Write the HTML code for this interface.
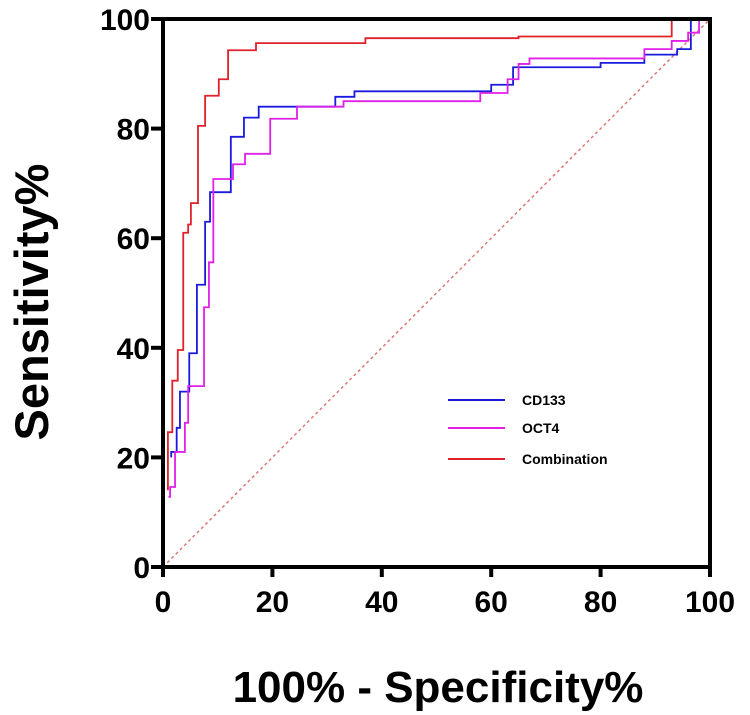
<!DOCTYPE html>
<html><head><meta charset="utf-8"><style>
body{margin:0;background:#fff;}
svg{display:block;font-family:"Liberation Sans",sans-serif;}
</style></head><body>
<svg id="chart" width="750" height="715"></svg>
<script>
const xTicks=[0,20,40,60,80,100];
const yTicks=[0,20,40,60,80,100];
const seriesNames=["CD133","OCT4","Combination"];
const seriesColors=["#1a1adf","#e020e8","#e0202a"];
const cd133=[[1.5,20],[1.5,21],[2.5,21],[2.5,25.4],[3.1,25.4],[3.1,32],[4.8,32],[4.8,39],[6.2,39],[6.2,51.5],[7.7,51.5],[7.7,63],[8.6,63],[8.6,68.4],[12.4,68.4],[12.4,78.5],[14.8,78.5],[14.8,82],[17.5,82],[17.5,84],[31.5,84],[31.5,85.8],[35,85.8],[35,86.8],[60,86.8],[60,88],[64,88],[64,91.2],[80,91.2],[80,92],[88,92],[88,93.5],[94,93.5],[94,94.5],[96.5,94.5],[96.5,100],[100,100]];
const oct4=[[1,12.8],[1.3,12.8],[1.3,14.6],[2.2,14.6],[2.2,21],[4,21],[4,26.3],[4.6,26.3],[4.6,33],[7.5,33],[7.5,47.4],[8.4,47.4],[8.4,55.6],[9.2,55.6],[9.2,70.8],[12.8,70.8],[12.8,73.5],[15,73.5],[15,75.4],[19.6,75.4],[19.6,81.8],[24.5,81.8],[24.5,84],[33,84],[33,85],[58,85],[58,86.5],[63,86.5],[63,89],[65,89],[65,91.8],[67,91.8],[67,92.8],[88,92.8],[88,94.5],[93,94.5],[93,96],[96,96],[96,97.5],[98,97.5],[98,100],[100,100]];
const combo=[[0.9,14],[0.9,24.6],[1.7,24.6],[1.7,34],[2.7,34],[2.7,39.6],[3.7,39.6],[3.7,61],[4.6,61],[4.6,62.5],[5.1,62.5],[5.1,66.4],[6.4,66.4],[6.4,80.5],[7.7,80.5],[7.7,86],[10.2,86],[10.2,89],[11.9,89],[11.9,94.3],[17,94.3],[17,95.6],[37,95.6],[37,96.5],[65,96.5],[65,96.8],[93,96.8],[93,100],[100,100]];
const seriesData=[cd133,oct4,combo];
const X0=163,X1=710,Y0=567,Y1=19;
const sx=v=>X0+(X1-X0)*v/100, sy=v=>Y0-(Y0-Y1)*v/100;
const svg=document.getElementById('chart');
const NS='http://www.w3.org/2000/svg';
function mk(t,a){const e=document.createElementNS(NS,t);for(const k in a)e.setAttribute(k,a[k]);svg.appendChild(e);return e;}
let d=mk('line',{x1:sx(0),y1:sy(0),x2:sx(100),y2:sy(100),stroke:'#d77','stroke-width':1.5,'stroke-dasharray':'3,3'});


seriesData.forEach((s,i)=>{
 const p=mk('polyline',{points:s.map(q=>sx(q[0])+','+sy(q[1])).join(' '),fill:'none',stroke:seriesColors[i],'stroke-width':1.8});
 
 
});
let fr=mk('rect',{x:X0,y:Y1,width:X1-X0,height:Y0-Y1,fill:'none',stroke:'#000','stroke-width':4});


xTicks.forEach(v=>{
 let l=mk('line',{x1:sx(v),y1:Y0,x2:sx(v),y2:Y0+10,stroke:'#000','stroke-width':4});
 
 
 let t=mk('text',{x:sx(v),y:Y0+45,'text-anchor':'middle','font-size':30,'font-weight':'bold'});
 t.textContent=v;
 
 
});
yTicks.forEach(v=>{
 let l=mk('line',{x1:X0-12,y1:sy(v),x2:X0,y2:sy(v),stroke:'#000','stroke-width':4});
 
 
 let t=mk('text',{x:X0-13,y:sy(v)+11,'text-anchor':'end','font-size':30,'font-weight':'bold'});
 t.textContent=v;
 
 
});
let xt=mk('text',{x:438,y:702,'text-anchor':'middle','font-size':44,'font-weight':'bold'});
xt.textContent='100% - Specificity%';


let yt=mk('text',{x:0,y:0,'text-anchor':'middle','font-size':47,'font-weight':'bold',transform:'translate(48,302) rotate(-90)'});
yt.textContent='Sensitivity%';


const ly=[400,428,459];
seriesNames.forEach((n,i)=>{
 let l=mk('line',{x1:448,y1:ly[i],x2:505,y2:ly[i],stroke:seriesColors[i],'stroke-width':2});
 
 
 let t=mk('text',{x:522,y:ly[i]+5,'font-size':14,'font-weight':'bold'});
 t.textContent=n;
 
 
});
</script>
</body></html>
